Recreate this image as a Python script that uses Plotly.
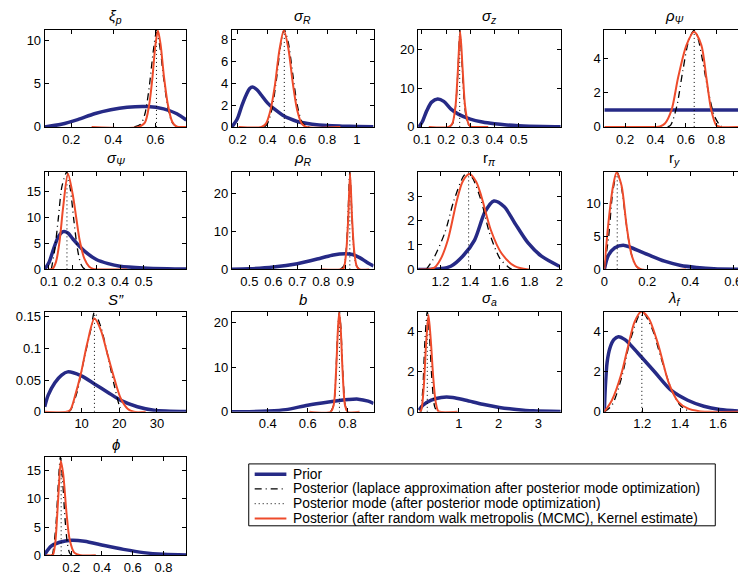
import plotly.graph_objects as go

# ---------------- data ----------------
# each curve: list of (x, density) points
XI_P_PRIOR = [(0.074,0.0),(0.153,0.3),(0.231,0.84),(0.31,1.53),(0.388,2.0),(0.466,2.29),(0.56,2.37),(0.639,2.1),(0.702,1.53),(0.747,0.8)]
XI_P_LAPLACE = [(0.50,0.0),(0.53,0.3),(0.55,1.5),(0.57,4.5),(0.59,8.8),(0.605,11.0),(0.62,9.5),(0.64,5.5),(0.66,2.2),(0.68,0.5),(0.70,0.05),(0.72,0.0)]
XI_P_MCMC = [(0.297,0),(0.52,0),(0.55,0.5),(0.57,2.5),(0.585,5.5),(0.6,9.5),(0.612,11.2),(0.625,9.5),(0.64,6.0),(0.66,2.5),(0.68,0.6),(0.70,0.05),(0.747,0)]
XI_P_MODE = 0.605

SIG_R_PRIOR = [(0.162,0),(0.2,0.8),(0.23,2.0),(0.26,3.0),(0.28,3.5),(0.3,3.65),(0.33,3.4),(0.36,2.9),(0.4,2.2),(0.45,1.6),(0.5,1.1),(0.55,0.75),(0.6,0.5),(0.7,0.25),(0.8,0.12),(0.9,0.07),(1.0,0.04),(1.111,0.02)]
SIG_R_LAPLACE = [(0.38,0),(0.40,0.3),(0.43,1.6),(0.46,4.3),(0.49,7.6),(0.513,8.9),(0.54,7.7),(0.57,4.8),(0.60,2.0),(0.63,0.5),(0.66,0.05),(0.68,0)]
SIG_R_MCMC = [(0.207,0),(0.36,0),(0.39,0.3),(0.42,1.5),(0.45,3.8),(0.48,7.0),(0.51,8.85),(0.54,7.2),(0.57,4.0),(0.60,1.5),(0.63,0.3),(0.66,0),(0.889,0)]
SIG_R_MODE = 0.513

SIG_Z_PRIOR = [(0.086,0),(0.1,1.2),(0.12,4.2),(0.14,6.4),(0.165,7.2),(0.19,6.6),(0.22,4.6),(0.25,3.3),(0.3,2.0),(0.35,1.25),(0.4,0.8),(0.45,0.5),(0.5,0.32),(0.6,0.13),(0.674,0.07)]
SIG_Z_LAPLACE = [(0.215,0),(0.228,1.0),(0.24,6),(0.25,16),(0.257,24.9),(0.265,17),(0.275,6.5),(0.287,1.2),(0.3,0)]
SIG_Z_MCMC = [(0.128,0),(0.21,0),(0.225,0.8),(0.238,5),(0.248,14),(0.258,24.6),(0.268,15),(0.278,5.5),(0.29,1.2),(0.3,0.1),(0.31,0),(0.374,0)]
SIG_Z_MODE = 0.256

RHO_PSI_PRIOR = [(0.063,1.0),(0.983,1.0)]
RHO_PSI_LAPLACE = [(0.48,0),(0.5,0.1),(0.54,1.2),(0.58,3.3),(0.62,5.1),(0.655,5.68),(0.68,5.2),(0.71,3.9),(0.75,2.0),(0.79,0.6),(0.83,0.05),(0.85,0)]
RHO_PSI_MCMC = [(0.063,0),(0.4,0),(0.43,0.03),(0.462,0.2),(0.506,1.0),(0.549,2.9),(0.604,4.8),(0.654,5.58),(0.702,4.8),(0.735,2.9),(0.767,1.0),(0.8,0.1),(0.83,0),(0.983,0)]
RHO_PSI_MODE = 0.655

SIG_PSI_PRIOR = [(0.082,0),(0.1,1.3),(0.12,4.0),(0.14,6.3),(0.16,7.25),(0.18,7.0),(0.2,5.9),(0.25,3.5),(0.3,1.9),(0.35,1.1),(0.4,0.6),(0.5,0.25),(0.6,0.1),(0.68,0.05)]
SIG_PSI_LAPLACE = [(0.11,0),(0.125,4.0),(0.14,10),(0.155,16),(0.175,18.7),(0.19,15.5),(0.205,9.5),(0.22,4),(0.235,1),(0.25,0.1),(0.26,0)]
SIG_PSI_MCMC = [(0.1,0),(0.115,0.1),(0.13,1.5),(0.145,5.5),(0.16,12),(0.18,18.4),(0.2,14.5),(0.215,10),(0.23,5.5),(0.25,2.0),(0.27,0.5),(0.29,0.05),(0.3,0),(0.43,0)]
SIG_PSI_MODE = 0.176

RHO_R_PRIOR = [(0.427,0.02),(0.5,0.15),(0.6,0.6),(0.7,1.5),(0.8,3.0),(0.85,3.8),(0.9,4.1),(0.93,3.9),(0.96,3.1),(0.99,1.9),(1.018,0.9)]
RHO_R_LAPLACE = [(0.88,0),(0.895,1.0),(0.905,6),(0.913,17),(0.919,25.6),(0.926,17),(0.934,6.5),(0.945,1.2),(0.958,0)]
RHO_R_MCMC = [(0.797,0),(0.88,0),(0.893,0.3),(0.903,4),(0.912,13),(0.92,25.3),(0.928,14),(0.937,5),(0.948,0.8),(0.96,0),(1.0,0)]
RHO_R_MODE = 0.919

R_PI_PRIOR = [(1.05,0),(1.15,0.01),(1.2,0.03),(1.27,0.13),(1.35,0.54),(1.43,1.2),(1.5,2.35),(1.56,2.8),(1.63,2.56),(1.7,1.9),(1.79,1.08),(1.88,0.54),(2.0,0.13)]
R_PI_LAPLACE = [(1.105,0),(1.15,0.4),(1.23,1.5),(1.29,2.8),(1.36,3.85),(1.39,3.93),(1.42,3.7),(1.475,2.8),(1.53,1.5),(1.6,0.45),(1.656,0.1),(1.68,0)]
R_PI_MCMC = [(1.06,0),(1.12,0),(1.16,0.07),(1.2,0.4),(1.25,1.2),(1.31,2.8),(1.35,3.6),(1.395,3.9),(1.44,3.6),(1.475,3.0),(1.54,1.6),(1.61,0.67),(1.7,0.13),(1.79,0),(1.8,0)]
R_PI_MODE = 1.39

R_Y_PRIOR = [(0,0),(0.018,2.1),(0.049,3.3),(0.088,3.7),(0.126,3.3),(0.203,2.25),(0.28,1.25),(0.356,0.6),(0.43,0.3),(0.51,0.1),(0.65,0.03)]
R_Y_LAPLACE = [(0.0,0.3),(0.02,5),(0.04,12),(0.06,14.85),(0.08,12.5),(0.1,7.5),(0.12,3.2),(0.14,0.9),(0.16,0.15),(0.18,0)]
R_Y_MCMC = [(0,0),(0.018,6.8),(0.041,12.8),(0.057,14.8),(0.08,12.8),(0.103,6.8),(0.126,2.3),(0.149,0.5),(0.172,0),(0.38,0)]
R_Y_MODE = 0.06

S_PP_PRIOR = [(0.2,0.008),(1.1,0.026),(2.9,0.046),(4.7,0.058),(6.3,0.063),(9.8,0.057),(13.4,0.044),(16.9,0.031),(20.4,0.018),(24.8,0.008),(29.2,0.0026),(37.8,0.0005)]
S_PP_LAPLACE = [(6.5,0),(7.0,0.002),(8.8,0.031),(10.6,0.082),(12.6,0.134),(13.4,0.157),(15.1,0.134),(16.9,0.09),(18.7,0.041),(20.0,0.01),(20.8,0)]
S_PP_MCMC = [(0.2,0),(6.0,0),(7.0,0.003),(8.3,0.026),(9.8,0.06),(11.5,0.108),(13.4,0.147),(15.1,0.129),(16.9,0.09),(18.7,0.052),(20.4,0.021),(22.2,0.005),(23.9,0),(27,0)]
S_PP_MODE = 13.4

B_PRIOR = [(0.22,0),(0.27,0.02),(0.4,0.2),(0.49,0.5),(0.6,1.5),(0.705,2.2),(0.804,2.75),(0.853,2.85),(0.903,2.4),(0.93,1.9)]
B_LAPLACE = [(0.715,0),(0.73,1.5),(0.742,9.5),(0.752,19.5),(0.759,22.5),(0.766,19),(0.776,9),(0.788,1.5),(0.8,0)]
B_MCMC = [(0.608,0),(0.715,0),(0.73,1.5),(0.742,9),(0.752,19),(0.758,22.3),(0.765,19),(0.775,9),(0.787,1.5),(0.8,0),(0.86,0)]
B_MODE = 0.759

SIG_A_PRIOR = [(0.0,0.08),(0.1,0.33),(0.31,0.58),(0.56,0.72),(0.85,0.72),(1.18,0.58),(1.6,0.38),(2.02,0.22),(2.44,0.12),(2.86,0.05),(3.56,0.02)]
SIG_A_LAPLACE = [(0.05,0),(0.1,1.2),(0.15,3.5),(0.21,5.0),(0.27,3.6),(0.33,1.5),(0.39,0.3),(0.45,0)]
SIG_A_MCMC = [(0.02,0),(0.06,0.1),(0.12,1.2),(0.18,3.4),(0.24,4.83),(0.3,3.5),(0.36,1.7),(0.42,0.5),(0.48,0.05),(0.52,0),(0.97,0)]
SIG_A_MODE = 0.21

LAM_F_PRIOR = [(1.0,0),(1.005,1.2),(1.015,2.5),(1.03,3.2),(1.05,3.6),(1.074,3.75),(1.109,3.6),(1.18,2.9),(1.265,2.0),(1.352,1.08),(1.44,0.58),(1.525,0.28),(1.61,0.12),(1.737,0.03)]
LAM_F_LAPLACE = [(1.0,0),(1.04,0.33),(1.09,1.67),(1.14,3.67),(1.198,5.0),(1.25,4.2),(1.30,2.67),(1.352,1.17),(1.40,0.33),(1.45,0)]
LAM_F_MCMC = [(1.0,0),(1.04,0.58),(1.09,1.9),(1.126,3.3),(1.16,4.5),(1.195,5.0),(1.234,4.67),(1.286,3.3),(1.338,1.5),(1.39,0.5),(1.44,0.17),(1.5,0.03),(1.55,0),(1.737,0)]
LAM_F_MODE = 1.198

PHI_PRIOR = [(0.028,0.15),(0.07,1.6),(0.125,2.3),(0.2,2.67),(0.286,2.5),(0.415,1.74),(0.54,1.05),(0.67,0.47),(0.8,0.17),(0.948,0.06)]
PHI_LAPLACE = [(0.075,0),(0.08,0.3),(0.1,5),(0.115,12),(0.13,17.4),(0.145,13),(0.16,6.5),(0.175,2.2),(0.19,0.4),(0.205,0)]
PHI_MCMC = [(0.04,0),(0.075,0),(0.083,0.17),(0.095,1.8),(0.105,5.1),(0.12,12.1),(0.133,16.7),(0.148,14.4),(0.17,7.4),(0.19,2.8),(0.22,0.47),(0.26,0),(0.36,0)]
PHI_MODE = 0.135

TITLES = ["<i>ξ<sub>p</sub></i>", "<i>σ<sub>R</sub></i>", "<i>σ<sub>z</sub></i>", "<i>ρ<sub>Ψ</sub></i>",
          "<i>σ<sub>Ψ</sub></i>", "<i>ρ<sub>R</sub></i>", "r<sub><i>π</i></sub>", "r<sub><i>y</i></sub>",
          "<i>S”</i>", "<i>b</i>", "<i>σ<sub>a</sub></i>", "<i>λ<sub>f</sub></i>", "<i>ϕ</i>"]

X_TICKS = [[0.2,0.4,0.6],[0.2,0.4,0.6,0.8,1],[0.1,0.2,0.3,0.4,0.5],[0.2,0.4,0.6,0.8],
           [0.1,0.2,0.3,0.4,0.5],[0.5,0.6,0.7,0.8,0.9],[1.2,1.4,1.6,1.8,2],[0,0.2,0.4,0.6],
           [10,20,30],[0.4,0.6,0.8],[1,2,3],[1.2,1.4,1.6],[0.2,0.4,0.6,0.8]]
Y_TICKS = [[0,5,10],[0,2,4,6,8],[0,10,20],[0,2,4],
           [0,5,10,15],[0,10,20],[0,1,2,3],[0,5,10],
           [0,0.05,0.1,0.15],[0,10,20],[0,2,4],[0,2,4],[0,5,10,15]]

LEGEND_NAMES = ["Prior",
                "Posterior (laplace approximation after posterior mode optimization)",
                "Posterior mode (after posterior mode optimization)",
                "Posterior (after random walk metropolis (MCMC), Kernel estimate)"]

# ---------------- layout / style ----------------
PRIORS = [XI_P_PRIOR, SIG_R_PRIOR, SIG_Z_PRIOR, RHO_PSI_PRIOR, SIG_PSI_PRIOR, RHO_R_PRIOR, R_PI_PRIOR,
          R_Y_PRIOR, S_PP_PRIOR, B_PRIOR, SIG_A_PRIOR, LAM_F_PRIOR, PHI_PRIOR]
LAPLACES = [XI_P_LAPLACE, SIG_R_LAPLACE, SIG_Z_LAPLACE, RHO_PSI_LAPLACE, SIG_PSI_LAPLACE, RHO_R_LAPLACE,
            R_PI_LAPLACE, R_Y_LAPLACE, S_PP_LAPLACE, B_LAPLACE, SIG_A_LAPLACE, LAM_F_LAPLACE, PHI_LAPLACE]
MCMCS = [XI_P_MCMC, SIG_R_MCMC, SIG_Z_MCMC, RHO_PSI_MCMC, SIG_PSI_MCMC, RHO_R_MCMC, R_PI_MCMC,
         R_Y_MCMC, S_PP_MCMC, B_MCMC, SIG_A_MCMC, LAM_F_MCMC, PHI_MCMC]
MODES = [XI_P_MODE, SIG_R_MODE, SIG_Z_MODE, RHO_PSI_MODE, SIG_PSI_MODE, RHO_R_MODE, R_PI_MODE,
         R_Y_MODE, S_PP_MODE, B_MODE, SIG_A_MODE, LAM_F_MODE, PHI_MODE]
X_RANGES = [[0.074,0.747],[0.162,1.111],[0.084,0.674],[0.063,0.983],[0.082,0.68],[0.427,1.018],
            [1.05,2.01],[0,0.65],[0.2,37.8],[0.22,0.93],[-0.02,3.56],[1.0,1.737],[0.028,0.948]]
Y_RANGES = [11.3, 8.9, 25.1, 5.71, 18.7, 25.6, 3.98, 14.85, 0.158, 22.5, 5.0, 5.0, 17.4]

# The page body has an 8px default margin, so the figure is laid out 8px smaller
OFF = 8
PAGE_W, PAGE_H = 746, 579
W, H = PAGE_W - OFF, PAGE_H - OFF
COLS = [(40,183),(229,372),(417,561),(605,746)]   # page pixels
ROWS = [(28,127),(173,272),(315,417),(463,563)]


def px(p):
    return (p - OFF) / W


def py(p):
    return 1 - (p - OFF) / H


BLUE = "#262a86"
RED = "#ee4b2b"
FONT = "Liberation Sans, Arial, sans-serif"
LAPLACE_DASH = "7px,4px,1px,4px"
MODE_DASH = "1px,3px"

fig = go.Figure()
layout = {}
for i in range(13):
    r, c = divmod(i, 4)
    ax = "" if i == 0 else str(i+1)
    xa, ya = "x"+ax, "y"+ax
    ymax = Y_RANGES[i]
    prx, pry = zip(*PRIORS[i])
    lx, ly = zip(*LAPLACES[i])
    mx, my = zip(*MCMCS[i])
    fig.add_trace(go.Scatter(x=prx, y=pry, mode="lines", xaxis=xa, yaxis=ya, name=LEGEND_NAMES[0],
                             showlegend=False,
                             line=dict(color=BLUE, width=3.5, shape="spline", smoothing=0.8)))
    fig.add_trace(go.Scatter(x=lx, y=ly, mode="lines", xaxis=xa, yaxis=ya, name=LEGEND_NAMES[1],
                             showlegend=False,
                             line=dict(color="black", width=1.3, dash=LAPLACE_DASH, shape="spline", smoothing=0.8)))
    fig.add_trace(go.Scatter(x=[MODES[i], MODES[i]], y=[0, ymax], mode="lines", xaxis=xa, yaxis=ya,
                             name=LEGEND_NAMES[2], showlegend=False,
                             line=dict(color="black", width=1, dash=MODE_DASH)))
    fig.add_trace(go.Scatter(x=mx, y=my, mode="lines", xaxis=xa, yaxis=ya, name=LEGEND_NAMES[3],
                             showlegend=False,
                             line=dict(color=RED, width=2, shape="spline", smoothing=0.8)))
    x0, x1 = COLS[c]
    yt, yb = ROWS[r]
    common = dict(showline=True, linecolor="black", linewidth=1, mirror="ticks", ticks="inside",
                  ticklen=4, tickcolor="black", showgrid=False, zeroline=False,
                  tickfont=dict(size=13, family=FONT, color="black"))
    layout["xaxis"+ax] = dict(domain=[px(x0), min(px(x1), 1.0)], range=X_RANGES[i], tickvals=X_TICKS[i],
                              anchor=ya, **common)
    layout["yaxis"+ax] = dict(domain=[py(yb), py(yt)], range=[0, ymax], tickvals=Y_TICKS[i],
                              anchor=xa, **common)
    fig.add_annotation(text=TITLES[i], xref=xa+" domain", yref=ya+" domain", x=0.5, y=1,
                       xanchor="center", yanchor="bottom", yshift=2, showarrow=False,
                       font=dict(size=15, family=FONT, color="black"))

# ---- hand-built legend box (matches the compact MATLAB legend) ----
LEG_BOX = (246, 470, 717, 533)
LEG_ROWS = [480.5, 495.5, 510.5, 525.5]
LEG_STYLES = [dict(color=BLUE, width=3.5), dict(color="black", width=1.3, dash=LAPLACE_DASH),
              dict(color="black", width=1, dash=MODE_DASH), dict(color=RED, width=2)]
shapes = [dict(type="rect", xref="paper", yref="paper", x0=px(LEG_BOX[0]), x1=px(LEG_BOX[2]),
               y0=py(LEG_BOX[3]), y1=py(LEG_BOX[1]), line=dict(color="black", width=1),
               fillcolor="white", layer="above")]
for yy, st, name in zip(LEG_ROWS, LEG_STYLES, LEGEND_NAMES):
    shapes.append(dict(type="line", xref="paper", yref="paper", x0=px(252), x1=px(284),
                       y0=py(yy), y1=py(yy), line=st, layer="above"))
    fig.add_annotation(text=name, xref="paper", yref="paper", x=px(290), y=py(yy),
                       xanchor="left", yanchor="middle", showarrow=False, height=15, borderpad=0,
                       valign="middle", font=dict(size=13.8, family=FONT, color="black"))

fig.update_layout(**layout)
fig.update_layout(width=W, height=H, margin=dict(l=0, r=0, t=0, b=0),
                  paper_bgcolor="white", plot_bgcolor="white", showlegend=False,
                  shapes=shapes)
fig.write_html("out.html")
